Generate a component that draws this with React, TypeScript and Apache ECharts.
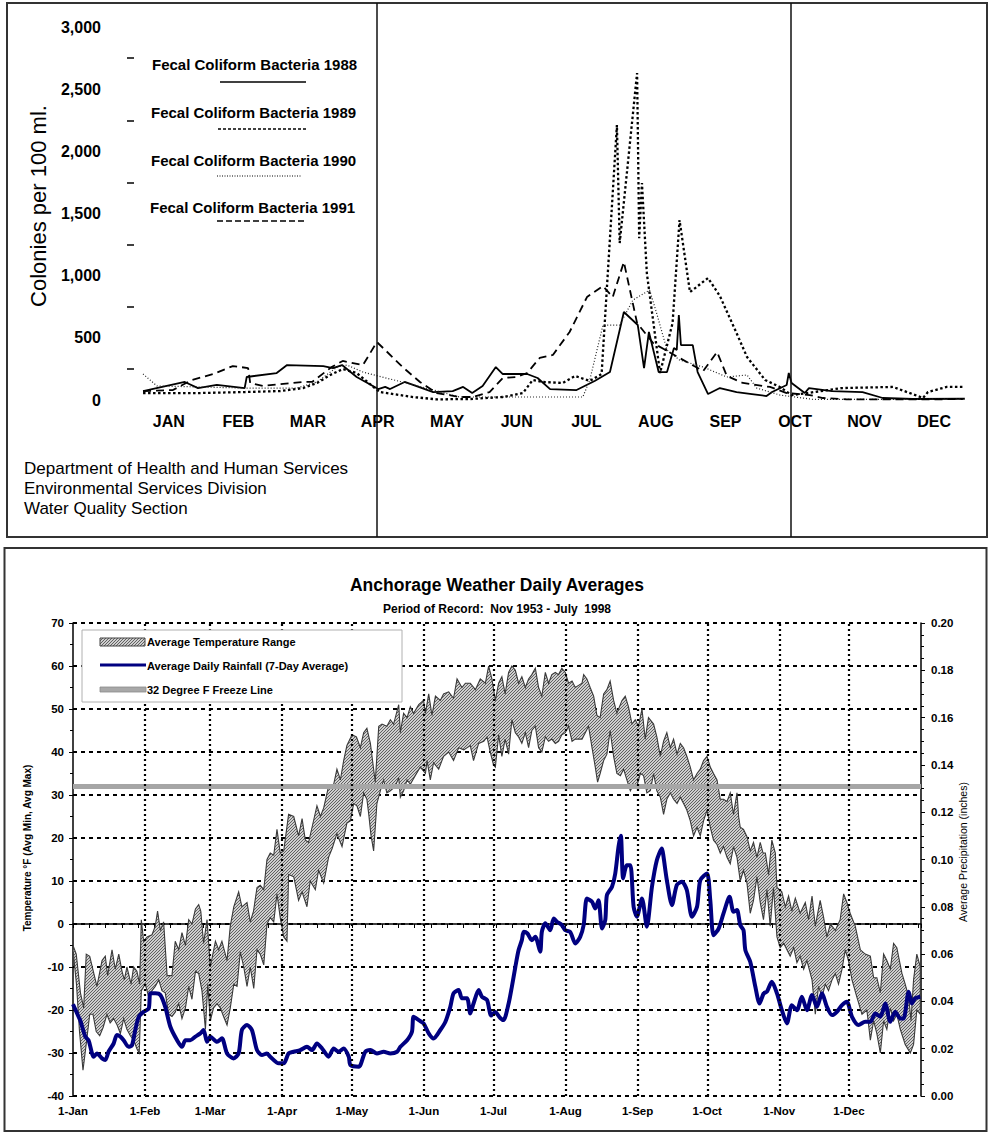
import React, { useEffect, useRef } from 'react';
import * as echarts from 'echarts';

const FONT = 'Liberation Sans, Arial, Helvetica, sans-serif';

// ---------- Top panel: fecal coliform (x = month position 0..12) ----------
const months = ['JAN', 'FEB', 'MAR', 'APR', 'MAY', 'JUN', 'JUL', 'AUG', 'SEP', 'OCT', 'NOV', 'DEC'];

const fecal1988: [number, number][] = [
  [0.13, 72], [0.73, 145], [0.92, 96], [1.19, 121], [1.59, 96], [1.62, 185], [2.05, 217], [2.2, 281], [2.72, 273],
  [2.86, 257], [2.99, 281], [3.2, 185], [3.51, 88], [3.61, 105], [3.68, 88], [3.89, 145], [4.3, 64], [4.58, 72],
  [4.73, 105], [4.86, 56], [5.01, 113], [5.2, 265], [5.3, 209], [5.65, 209], [5.8, 177], [5.98, 88], [6.36, 80],
  [6.62, 153], [6.84, 225], [7.04, 708], [7.24, 603], [7.33, 257], [7.4, 547], [7.54, 225], [7.66, 225], [7.76, 418],
  [7.8, 402], [7.83, 683], [7.86, 442], [8.03, 442], [8.1, 225], [8.25, 48], [8.42, 96], [8.66, 64], [8.88, 48],
  [9.09, 32], [9.17, 64], [9.38, 121], [9.41, 217], [9.45, 137], [9.64, 56], [9.7, 96], [10.03, 72], [10.47, 64],
  [10.76, 16], [11.19, 8], [11.94, 10],
];

const fecal1989: [number, number][] = [
  [0.13, 56], [0.95, 56], [1.59, 64], [2.1, 72], [2.43, 96], [2.63, 137], [2.82, 201], [3.0, 249], [3.2, 217],
  [3.53, 64], [4.01, 24], [4.35, 5], [4.83, 8], [5.3, 24], [5.59, 56], [5.73, 161], [5.88, 145], [6.16, 137],
  [6.34, 193], [6.55, 153], [6.72, 209], [6.94, 2211], [6.98, 1262], [7.23, 2629], [7.26, 1302], [7.3, 1745],
  [7.37, 1021], [7.56, 217], [7.74, 619], [7.84, 1447], [7.99, 868], [8.25, 981], [8.42, 836], [8.64, 563],
  [8.81, 346], [9.07, 161], [9.28, 105], [9.45, 40], [9.68, 56], [10.17, 96], [10.91, 105], [11.34, 16],
  [11.41, 64], [11.68, 105], [11.94, 105],
];

const fecal1990: [number, number][] = [
  [0.13, 209], [0.33, 113], [1.59, 96], [2.34, 96], [2.63, 145], [2.92, 265], [3.06, 281], [3.29, 225], [3.51, 193],
  [4.25, 88], [4.68, 24], [5.3, 24], [6.45, 24], [6.55, 161], [6.74, 603], [6.98, 603], [7.17, 804], [7.41, 884],
  [7.51, 700], [7.66, 402], [7.84, 322], [8.18, 265], [8.52, 185], [8.81, 201], [8.95, 96], [9.28, 40], [9.76, 5],
  [10.17, 5], [11.01, 5], [11.94, 8],
];

const fecal1991: [number, number][] = [
  [0.13, 72], [0.56, 80], [0.83, 161], [1.14, 209], [1.42, 273], [1.64, 257], [1.67, 137], [1.85, 113], [2.43, 145],
  [2.56, 145], [2.84, 265], [3.0, 314], [3.29, 281], [3.49, 466], [3.61, 402], [3.86, 265], [4.11, 145], [4.35, 56],
  [4.68, 24], [4.87, 24], [5.11, 64], [5.3, 177], [5.5, 185], [5.65, 217], [5.83, 338], [6.02, 362], [6.26, 547],
  [6.51, 828], [6.74, 917], [6.88, 828], [7.04, 1110], [7.23, 619], [7.46, 458], [7.84, 338], [8.18, 233],
  [8.38, 386], [8.52, 193], [8.75, 137], [9.14, 105], [9.38, 56], [9.71, 40], [9.9, 16], [10.24, 5], [10.72, 5],
  [11.44, 5], [11.91, 8],
];

// ---------- Bottom panel: Anchorage weather (x = day of year) ----------
const monthStarts = [0, 31, 59, 90, 120, 151, 181, 212, 243, 273, 304, 334];
const monthLabels = ['1-Jan', '1-Feb', '1-Mar', '1-Apr', '1-May', '1-Jun', '1-Jul', '1-Aug', '1-Sep', '1-Oct', '1-Nov', '1-Dec'];
const freezeLine = 32;

const tempMax: [number, number][] = [
  [0, -5], [1.4, -7], [3.2, -16], [4.6, -19.5], [5.7, -7], [7.2, -7.5], [10.3, -14.5], [12.5, -8.5], [13.9, -7.5],
  [14.9, -12], [16.8, -6], [18.2, -10.5], [19.7, -7], [21.1, -11], [22.1, -13], [23.2, -10], [25, -14], [26.1, -10],
  [27.5, -11], [28.7, -14], [29.4, 1], [30.4, -4], [31.9, -3], [34, -2.5], [35.4, -0.5], [36.4, 3], [37.6, -1.5],
  [39, 0.5], [40.5, -12], [42.6, -12], [44, -4], [45.5, -6], [46.9, -2], [48.4, -5], [49.8, 1], [51.2, 0], [52.7, 3.5],
  [54.1, 4.5], [55, 3], [56.2, -4.5], [57.7, 1], [59.1, -10], [61.3, -4], [62.7, -6], [64.1, -4], [66.3, -8.5],
  [67.7, -0.5], [69.2, 4], [71.3, 7.5], [72.7, 4], [74.9, 5], [76.3, 0.5], [77.7, 3], [79.2, 8.5], [80.6, 9], [82.1, 8],
  [83.5, 15], [84.9, 16.5], [86.4, 16], [87.8, 22], [89.2, 16.5], [90.7, 17], [92.8, 25.5], [95, 25], [97.1, 20.5],
  [98.6, 24.5], [100, 19.5], [101.4, 19], [102.9, 22.5], [105, 27.5], [106.5, 25], [107.9, 27], [110, 32], [112.2, 32.5],
  [113.6, 36], [115.1, 33.5], [116.5, 38], [117.9, 41.5], [120.1, 44], [122, 43.5], [123.7, 41], [125.1, 44.5],
  [126.5, 45.5], [128, 42], [129.4, 36], [130.1, 33], [131.6, 46], [133, 46.5], [135.1, 46], [136.6, 47.5], [138, 46.5],
  [140.2, 51], [140.9, 44.5], [142.3, 49], [143.8, 48], [145.2, 50.5], [146.6, 49], [148.8, 51], [150.9, 52],
  [151.7, 49], [153.1, 53.5], [154.5, 48.5], [156, 53], [158.1, 52], [159.5, 53.5], [161.7, 54], [163.8, 52.5],
  [165.3, 57], [167.4, 55], [168.9, 56], [171, 56], [173.2, 54.5], [175.3, 57], [177.5, 56], [178.9, 60], [180.3, 57],
  [181.8, 52], [183.2, 56], [184.6, 57.5], [186, 53.5], [187.5, 58.5], [188.9, 60], [190.4, 59], [191.8, 56],
  [193.2, 57.5], [194.7, 55], [196.1, 57], [197.5, 58], [199, 59.5], [200.4, 55], [201.8, 53], [203.3, 58.5],
  [204.7, 56], [206.1, 58], [207.6, 58.5], [209, 58], [210.4, 59.5], [211.9, 58.5], [213.3, 56], [214.8, 56.5],
  [216.2, 55], [217.6, 55.5], [219.1, 56], [219.8, 58], [221.2, 57], [222.6, 55], [224.1, 53], [225.5, 48.5],
  [226.9, 48], [228.4, 53.5], [229.8, 54.5], [231.2, 56.5], [232.7, 52], [234.1, 49], [236.3, 52], [237.7, 53],
  [239.1, 50.5], [240.6, 46.5], [242, 47.5], [243.4, 46], [244.9, 50], [246.3, 43], [247.7, 48], [249.9, 46.5],
  [251.3, 43.5], [252.8, 39], [254.2, 42.5], [255.6, 44.5], [257.1, 41], [258.5, 43], [260, 39.5], [261.4, 42],
  [262.8, 41], [264.2, 39], [265.7, 36.5], [267.1, 33.5], [268.6, 35], [270, 36], [271.4, 38], [272.9, 39],
  [274.3, 36.5], [275.7, 35], [277.2, 33.5], [278.6, 29], [280, 29], [281.5, 28.5], [282.9, 30.5], [284.3, 25.5],
  [285.8, 30.5], [286.5, 25], [287.2, 22.5], [288.6, 22], [290.1, 20.3], [291.5, 17], [292.9, 19], [294.4, 15.5],
  [295.8, 19], [297, 16.5], [298, 16.5], [299.4, 11.5], [300.8, 19.5], [302.3, 16.5], [303, 8.5], [305.1, 7.5],
  [306.6, 4], [308, 6.5], [309.4, 3], [310.9, 6], [313, 2.5], [315.2, 5], [316.6, 1], [318.1, 6.5], [319.5, -0.5],
  [321.6, 5.5], [323.1, 1.5], [324.5, -3], [326, 0], [328.1, -1.5], [330.2, 1], [331.7, 7], [333.1, 5], [334.5, 2.5],
  [336.7, -0.5], [338.9, -6], [341, -7], [343.2, -7.5], [344.6, -12.5], [346, -12.5], [347.5, -16], [348.9, -7],
  [350.3, -8.5], [351.8, -10.5], [353.2, -4.5], [354.6, -5.5], [356.8, -11.5], [358.2, -14], [359.7, -17],
  [360.7, -22.5], [361.8, -13], [363.2, -7], [364.7, -10],
];

const tempMin: [number, number][] = [
  [0, -6], [1.5, -14], [2.8, -25], [4.3, -34], [5.9, -27], [7.2, -21], [8.6, -21], [10, -25], [11.5, -26], [13, -24],
  [14.6, -21], [16, -23], [17.5, -22], [19, -23.5], [20.4, -25.5], [21.8, -22], [23.2, -24.5], [24.7, -26], [26.1, -27],
  [27.5, -29], [28.5, -30], [29.4, -15.5], [31.1, -14], [32.6, -17], [34, -15.5], [35.4, -14.5], [36.9, -13],
  [38.3, -15.5], [39.7, -16], [41.2, -21], [42.6, -21.5], [44, -20.5], [45.5, -18.5], [46.9, -22], [48.4, -19.5],
  [49.8, -14.5], [51.2, -17.5], [52.7, -11], [54.1, -11.5], [55.5, -15.5], [57, -24.5], [58, -14], [59.1, -22.5],
  [60.5, -19.5], [62, -18.5], [63.4, -19.5], [64.8, -21.5], [66.3, -23.5], [67.7, -19.5], [69.2, -14], [70.6, -14.5],
  [72, -6.5], [73.5, -10], [74.9, -14.5], [76.3, -10], [77.8, -15], [79.2, -6], [80.6, -7], [82.1, -9.5], [83.5, 0],
  [84.9, 1.5], [86.4, 0.5], [87.8, 7], [89.2, 1.5], [90.7, -3], [92.1, -4], [92.8, 11.5], [95, 11], [97.1, 5.5],
  [98.6, 7.5], [100.7, 4], [102.1, 10], [104.3, 8], [105.7, 12.5], [107.9, 9.5], [110, 15.5], [111.5, 17.5],
  [113.6, 21], [115.8, 18], [117.9, 23.5], [119.4, 24], [120.8, 28], [122.2, 27.5], [123.7, 25], [125.1, 30.5],
  [126.5, 29], [127.3, 25.5], [128.3, 20.5], [129.4, 17], [130.8, 28], [132.3, 31], [133.7, 33.5], [135.1, 30.5],
  [136.6, 31], [138.7, 32], [140.2, 34], [140.9, 29.5], [142.3, 31], [143.8, 33.5], [145.2, 32.5], [147.3, 34.5],
  [149.5, 36.5], [151.7, 35], [152.4, 38], [153.8, 33.5], [155.2, 37.5], [157.4, 36], [159.5, 39], [161.7, 40],
  [163.8, 38], [166, 41], [168.2, 40.5], [171, 41.5], [172.4, 38], [174.6, 42], [176.8, 42.5], [178.2, 43.5],
  [179.6, 40], [181, 37], [181.8, 36.5], [183.2, 44], [184.6, 39], [186, 43], [187.5, 39.5], [188.9, 47.5],
  [190.4, 44.5], [191.8, 43.5], [193.2, 42], [194.7, 44.5], [196.1, 41], [197.5, 45], [199, 46], [200.4, 41],
  [201.8, 40], [203.3, 43.5], [204.7, 42.5], [206.1, 43], [207.6, 42], [209, 42.5], [210.4, 44], [211.9, 44.5],
  [213.3, 46], [214.8, 42.5], [216.2, 43], [217.6, 43], [219.1, 43], [220.5, 44.5], [221.9, 46], [223.4, 41],
  [224.8, 36.5], [225.8, 33], [226.9, 35], [228.4, 38], [229.8, 39.5], [231.2, 45], [232.7, 39], [234.1, 35],
  [235.6, 34.5], [237, 36], [238.4, 33.5], [239.9, 31], [241.3, 32.5], [242.7, 32], [244.2, 35], [245.6, 34.5],
  [247, 30.5], [248.5, 31], [249.9, 35], [251.3, 31], [252.8, 29.5], [254.2, 25.5], [255.6, 29], [257.1, 30.5],
  [258.5, 29], [260, 28], [261.4, 29.5], [262.8, 28], [264.2, 26.5], [265.7, 24], [267.1, 20.5], [268.6, 22.5],
  [270, 20.5], [271.4, 24], [272.9, 26.5], [274.3, 22.5], [275.7, 19.5], [277.2, 18.5], [278.6, 16.5], [280, 18],
  [281.5, 15.5], [282.9, 14], [284.3, 18], [285.8, 15.5], [287.2, 10], [288.6, 12.5], [290.1, 9.5], [291.5, 2.5],
  [292.9, 5.5], [294.4, 11], [295.8, 5], [297.2, 1], [298.7, 8], [300.1, -0.5], [301.5, 8.5], [303, -3], [304.4, -5.5],
  [305.9, -4.5], [307.3, -6], [308.7, -7.5], [310.2, -5.5], [311.6, -9], [313, -7.5], [314.5, -10.5], [315.9, -8.5],
  [318.1, -13], [319.5, -21], [320.9, -14.5], [322.4, -17], [323.8, -14], [325.2, -15.5], [326.7, -13], [328.1, -11.5],
  [329.5, -14], [331, -10.5], [332.4, -6], [333.8, -8.5], [335.3, -13], [337.4, -17], [339.6, -21], [341.7, -20],
  [343.2, -27], [344.6, -22.5], [346, -25.5], [347.5, -30], [348.9, -22.5], [350.3, -24.5], [351.8, -19.5],
  [353.2, -22.5], [354.6, -21], [356.1, -24.5], [358.2, -28], [360.4, -30], [361.8, -28], [363.2, -20], [364.7, -21],
];

const rainfall: [number, number][] = [
  [0, 0.0388], [2.4, 0.0335], [3.1, 0.0321], [5.3, 0.0251], [6.7, 0.0236], [8.9, 0.0166], [10.3, 0.018], [12.5, 0.0159],
  [13.9, 0.0152], [15.3, 0.0187], [17.5, 0.0222], [18.9, 0.0258], [20.4, 0.0251], [21.8, 0.0236], [23.9, 0.0208],
  [25.4, 0.0215], [26.8, 0.0279], [28.3, 0.0335], [30.4, 0.0356], [32.6, 0.037], [33.3, 0.0434], [35.4, 0.0434],
  [37.6, 0.0427], [39.7, 0.0377], [41.9, 0.0293], [44.8, 0.0236], [46.9, 0.0208], [48.4, 0.0236], [50.5, 0.0236],
  [52.7, 0.0251], [54.8, 0.0265], [56.2, 0.0279], [57.7, 0.0229], [59.1, 0.0251], [62, 0.0229], [64.1, 0.0244],
  [66.3, 0.018], [69.1, 0.0159], [71.3, 0.018], [72.7, 0.0279], [74.9, 0.03], [77, 0.0279], [79.2, 0.0194],
  [81.3, 0.0173], [83.5, 0.018], [84.9, 0.0166], [88.5, 0.0138], [90.7, 0.0138], [92.8, 0.018], [95, 0.0187],
  [97.8, 0.0194], [100.7, 0.0208], [102.9, 0.0194], [105, 0.0222], [107.2, 0.0201], [110, 0.0166], [112.2, 0.0201],
  [114.3, 0.0187], [116.5, 0.0201], [118.7, 0.0166], [119.4, 0.0131], [123, 0.0124], [125.8, 0.0187], [128, 0.0194],
  [130.8, 0.018], [133.7, 0.0187], [136.6, 0.018], [139.5, 0.0187], [140.9, 0.0208], [143.8, 0.0236], [145.9, 0.0272],
  [146.6, 0.0335], [148.8, 0.0321], [150.9, 0.0307], [153.1, 0.0265], [155.2, 0.0243], [158.1, 0.0279],
  [160.3, 0.0314], [162.4, 0.0377], [163.8, 0.0434], [166, 0.0448], [167.4, 0.0413], [169.6, 0.0413], [171, 0.0349],
  [172.4, 0.0391], [174.6, 0.0448], [176, 0.042], [178.2, 0.0406], [180, 0.034], [181.7, 0.0355], [183.9, 0.033],
  [185.3, 0.0321], [187.5, 0.0391], [188.9, 0.0462], [190.4, 0.0546], [191.8, 0.0617], [193.2, 0.0659], [194, 0.0694],
  [195.6, 0.0687], [197.5, 0.0659], [199, 0.0673], [201.1, 0.061], [201.8, 0.0694], [203.3, 0.073], [205.4, 0.0701],
  [206.9, 0.0751], [208.3, 0.0737], [210.4, 0.0723], [211.9, 0.0701], [214, 0.0694], [216.2, 0.0645], [218.3, 0.0673],
  [219.8, 0.0723], [221.2, 0.0835], [223.4, 0.0821], [224.8, 0.0793], [226.2, 0.0828], [227.7, 0.0708],
  [229.1, 0.0744], [229.8, 0.0849], [232, 0.0885], [233.4, 0.0941], [234.8, 0.1054], [235.8, 0.11], [236.8, 0.092],
  [238.4, 0.0976], [239.9, 0.0976], [241.3, 0.08], [242.7, 0.0758], [244.9, 0.0835], [247, 0.0716], [249.2, 0.0885],
  [251.3, 0.0997], [253.5, 0.1047], [254.2, 0.101], [255.6, 0.0913], [257.8, 0.0807], [259.9, 0.0892],
  [262.1, 0.0906], [264.2, 0.0871], [266.4, 0.0758], [268.6, 0.08], [270, 0.0913], [272.9, 0.0941], [274.3, 0.0828],
  [275.7, 0.068], [277.9, 0.0708], [280, 0.0772], [282.6, 0.0842], [284.3, 0.0779], [285.8, 0.0786], [287.2, 0.0723],
  [288.6, 0.0701], [289.4, 0.0617], [291.5, 0.0568], [293.7, 0.0462], [295.5, 0.0391], [297.3, 0.0434],
  [298.7, 0.0441], [300.8, 0.0483], [303, 0.0434], [305.1, 0.0363], [307.3, 0.0307], [309.4, 0.0384], [311.6, 0.0363],
  [313.7, 0.042], [315.9, 0.0363], [318.1, 0.0427], [320.2, 0.0377], [322.4, 0.0434], [324.5, 0.0377],
  [326.7, 0.0342], [328.8, 0.0356], [331, 0.0384], [333.1, 0.0398], [335.3, 0.0335], [338.1, 0.03], [341, 0.0314],
  [343.2, 0.0314], [345.3, 0.0349], [347.5, 0.0335], [349.6, 0.0391], [351.8, 0.0314], [353.9, 0.0356],
  [356.1, 0.0328], [357.5, 0.0328], [359.7, 0.0441], [361.1, 0.0391], [362.5, 0.0413], [364.7, 0.042],
];

function txt(text: string, x: number, y: number, size: number, weight: string, extra: any = {}) {
  return {
    type: 'text',
    x,
    y,
    z: 20,
    rotation: extra.rotation || 0,
    style: {
      text,
      fill: '#000',
      fontSize: size,
      fontWeight: weight,
      fontFamily: FONT,
      align: extra.align || 'left',
      textAlign: extra.align || 'left',
      verticalAlign: 'middle',
      textVerticalAlign: 'middle',
    },
  };
}

function ln(x1: number, y1: number, x2: number, y2: number, stroke: string, lineWidth: number, lineDash?: number[]) {
  return {
    type: 'line',
    z: 20,
    shape: { x1, y1, x2, y2 },
    style: { stroke, lineWidth, lineDash: lineDash || null },
  };
}

export default function App() {
  const ref = useRef<HTMLDivElement>(null);

  useEffect(() => {
    if (!ref.current) return;
    const chart = echarts.init(ref.current, undefined, { renderer: 'svg', width: 988, height: 1133 });

    const cv = document.createElement('canvas');
    cv.width = 3;
    cv.height = 3;
    const ctx = cv.getContext('2d');
    if (ctx) {
      ctx.fillStyle = '#cfcfcf';
      ctx.fillRect(0, 0, 3, 3);
      ctx.strokeStyle = '#555555';
      ctx.lineWidth = 0.9;
      ctx.beginPath();
      ctx.moveTo(0, 3); ctx.lineTo(3, 0);
      ctx.moveTo(-1, 1); ctx.lineTo(1, -1);
      ctx.moveTo(2, 4); ctx.lineTo(4, 2);
      ctx.stroke();
    }
    const hatch: any = { image: cv.toDataURL(), repeat: 'repeat', imageWidth: 3, imageHeight: 3 };

    const weekTicks: number[] = [];
    for (let d = 0; d <= 364; d += 7) weekTicks.push(d);
    const tickVals = Array.from(new Set([...weekTicks, ...monthStarts, 365])).sort((a, b) => a - b);

    const graphic: any[] = [
      // panel frames
      { type: 'rect', z: 20, shape: { x: 7, y: 3, width: 980, height: 534 }, style: { fill: 'none', stroke: '#333', lineWidth: 2 } },
      { type: 'rect', z: 20, shape: { x: 4.5, y: 548, width: 982, height: 583 }, style: { fill: 'none', stroke: '#333', lineWidth: 2 } },
      ln(377, 3, 377, 537, '#111', 1.5),
      ln(791, 3, 791, 537, '#111', 1.5),
      // top legend
      txt('Fecal Coliform Bacteria 1988', 152, 64, 15, 'bold'),
      ln(220, 82, 306, 82, '#000', 1.5),
      txt('Fecal Coliform Bacteria 1989', 151, 112, 15, 'bold'),
      ln(218, 129, 306, 129, '#000', 1.5, [3, 2]),
      txt('Fecal Coliform Bacteria 1990', 151, 160, 15, 'bold'),
      ln(217, 176, 302, 176, '#000', 1, [1, 1.5]),
      txt('Fecal Coliform Bacteria 1991', 150, 207, 15, 'bold'),
      ln(217, 221, 305, 221, '#000', 1.5, [6, 3]),
      // top y title & footer
      txt('Colonies per 100 ml.', 38, 206, 22, 'normal', { rotation: Math.PI / 2, align: 'center' }),
      txt('Department of Health and Human Services', 24, 468, 17, 'normal'),
      txt('Environmental Services Division', 24, 488, 17, 'normal'),
      txt('Water Quality Section', 24, 508, 17, 'normal'),
      // bottom titles
      txt('Anchorage Weather Daily Averages', 497, 585, 17.5, 'bold', { align: 'center' }),
      txt('Period of Record:  Nov 1953 - July  1998', 497, 609, 12, 'bold', { align: 'center' }),
      txt('Temperature °F (Avg Min, Avg Max)', 27, 848, 10, 'bold', { rotation: Math.PI / 2, align: 'center' }),
      txt('Average Precipitation (inches)', 963, 852, 10.5, 'normal', { rotation: Math.PI / 2, align: 'center' }),
      // bottom legend
      { type: 'rect', z: 19, shape: { x: 82, y: 630, width: 320, height: 72 }, style: { fill: '#fff', stroke: '#b0b0b0', lineWidth: 1 } },
      { type: 'rect', z: 20, shape: { x: 100, y: 638, width: 45, height: 8 }, style: { fill: hatch, stroke: '#444', lineWidth: 1 } },
      txt('Average Temperature Range', 147, 642, 11, 'bold'),
      ln(100, 665, 146, 665, '#000080', 3),
      txt('Average Daily Rainfall (7-Day Average)', 147, 666, 11, 'bold'),
      { type: 'rect', z: 20, shape: { x: 100, y: 687, width: 46, height: 5 }, style: { fill: '#a8a8a8', stroke: '#8a8a8a', lineWidth: 0.8 } },
      txt('32 Degree F Freeze Line', 147, 690, 11, 'bold'),
    ];

    const labelBase = { color: '#000', fontFamily: FONT };

    const option: any = {
      animation: false,
      backgroundColor: '#fff',
      graphic,
      grid: [
        { left: 134, right: 19, top: 27, bottom: 733 },
        { left: 73, right: 67, top: 623, bottom: 37 },
      ],
      xAxis: [
        {
          type: 'category', gridIndex: 0, data: months, boundaryGap: true,
          axisLine: { show: false }, axisTick: { show: false }, splitLine: { show: false },
          axisLabel: { ...labelBase, interval: 0, fontSize: 16, fontWeight: 'bold', margin: 13 },
        },
        { type: 'value', gridIndex: 0, min: 0, max: 12, show: false },
        {
          type: 'value', gridIndex: 1, min: 0, max: 365,
          axisLine: { show: true, lineStyle: { color: '#000', width: 1.5 } },
          axisTick: { show: true, customValues: tickVals, length: 4, lineStyle: { color: '#000' } },
          splitLine: { show: false },
          axisLabel: {
            ...labelBase, fontSize: 11.5, fontWeight: 'bold', margin: 9,
            customValues: monthStarts,
            formatter: (v: number) => {
              const i = monthStarts.indexOf(Math.round(v));
              return i >= 0 ? monthLabels[i] : '';
            },
          },
        },
      ],
      yAxis: [
        {
          type: 'value', gridIndex: 0, min: 0, max: 3000, interval: 500, offset: 13,
          axisLine: { show: false }, axisTick: { show: false }, splitLine: { show: false },
          minorTick: { show: true, splitNumber: 2, length: 7, lineStyle: { color: '#000', width: 1.5 } },
          axisLabel: {
            ...labelBase, fontSize: 16, fontWeight: 'bold', margin: 20,
            formatter: (v: number) => v.toLocaleString('en-US'),
          },
        },
        {
          type: 'value', gridIndex: 1, position: 'left', min: -40, max: 70, interval: 10,
          axisLine: { show: true, lineStyle: { color: '#000', width: 1.5 } },
          axisTick: { show: true, length: 4, lineStyle: { color: '#000' } },
          minorTick: { show: true, splitNumber: 2, length: 3, lineStyle: { color: '#000' } },
          splitLine: { show: true, lineStyle: { color: '#000', width: 2, type: [4, 4] } },
          axisLabel: { ...labelBase, fontSize: 11.5, fontWeight: 'bold', margin: 9 },
        },
        {
          type: 'value', gridIndex: 1, position: 'right', min: 0, max: 0.2, interval: 0.02,
          axisLine: { show: true, lineStyle: { color: '#000', width: 1.5 } },
          axisTick: { show: true, length: 4, lineStyle: { color: '#000' } },
          minorTick: { show: true, splitNumber: 4, length: 3, lineStyle: { color: '#000' } },
          splitLine: { show: false },
          axisLabel: { ...labelBase, fontSize: 11.5, fontWeight: 'bold', margin: 10, formatter: (v: number) => v.toFixed(2) },
        },
      ],
      series: [
        {
          name: 'Fecal Coliform Bacteria 1988', type: 'line', xAxisIndex: 1, yAxisIndex: 0, data: fecal1988,
          symbol: 'none', lineStyle: { color: '#000', width: 1.8, type: 'solid' },
        },
        {
          name: 'Fecal Coliform Bacteria 1989', type: 'line', xAxisIndex: 1, yAxisIndex: 0, data: fecal1989,
          symbol: 'none', lineStyle: { color: '#000', width: 2.3, type: [2.5, 2.5] },
        },
        {
          name: 'Fecal Coliform Bacteria 1990', type: 'line', xAxisIndex: 1, yAxisIndex: 0, data: fecal1990,
          symbol: 'none', lineStyle: { color: '#222', width: 1.2, type: [1, 2] },
        },
        {
          name: 'Fecal Coliform Bacteria 1991', type: 'line', xAxisIndex: 1, yAxisIndex: 0, data: fecal1991,
          symbol: 'none', lineStyle: { color: '#000', width: 1.8, type: [8, 5] },
        },
        {
          name: 'month grid', type: 'line', xAxisIndex: 2, yAxisIndex: 1, data: [], z: 1,
          markLine: {
            silent: true, symbol: ['none', 'none'], label: { show: false },
            lineStyle: { color: '#000', width: 2.2, type: [2, 3] },
            data: monthStarts.slice(1).map((d) => ({ xAxis: d })),
          },
        },
        {
          name: 'Average Temperature Range', type: 'custom', xAxisIndex: 2, yAxisIndex: 1, z: 2,
          data: [[0, 0]],
          renderItem: (_params: any, api: any) => {
            const upper = tempMax.map((p) => api.coord(p));
            const lower = tempMin.slice().reverse().map((p) => api.coord(p));
            return {
              type: 'polygon',
              shape: { points: upper.concat(lower) },
              style: { fill: hatch, stroke: '#3a3a3a', lineWidth: 1.1 },
            };
          },
        },
        {
          name: '32 Degree F Freeze Line', type: 'line', xAxisIndex: 2, yAxisIndex: 1, z: 3,
          data: [[0, freezeLine], [365, freezeLine]], symbol: 'none',
          lineStyle: { color: '#a6a6a6', width: 5 },
        },
        {
          name: 'Average Daily Rainfall (7-Day Average)', type: 'line', xAxisIndex: 2, yAxisIndex: 2, z: 4,
          data: rainfall, symbol: 'none', smooth: 0.25,
          lineStyle: { color: '#000080', width: 4 },
        },
      ],
    };

    chart.setOption(option);
    return () => chart.dispose();
  }, []);

  return (
    <div
      ref={ref}
      style={{ position: 'absolute', left: 0, top: 0, width: 988, height: 1133, background: '#fff' }}
    />
  );
}
